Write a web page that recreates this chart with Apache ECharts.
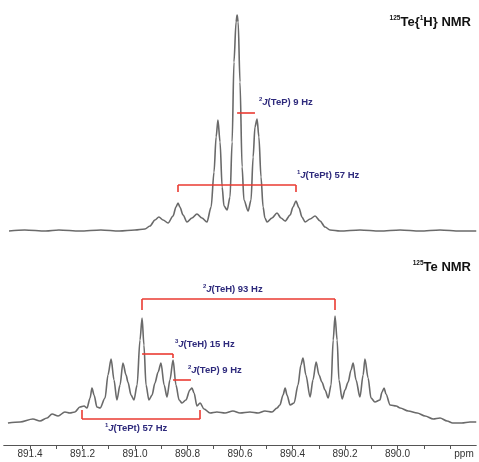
<!DOCTYPE html>
<html>
<head>
<meta charset="utf-8">
<script src="https://cdn.jsdelivr.net/npm/echarts@6/dist/echarts.min.js"></script>
<style>
  html, body { margin: 0; padding: 0; background: #fff; }
  #chart { width: 479px; height: 462px; }
</style>
</head>
<body>
<div id="chart"></div>
<script>
// 125Te{1H} spectrum (ppm, intensity)
const topPpm = [891.48, 891.42, 891.34, 891.29, 891.21, 891.13, 891.06, 891.00, 890.962, 890.943,
  890.924, 890.909, 890.893, 890.874, 890.855, 890.844, 890.836, 890.829, 890.817, 890.802,
  890.783, 890.764, 890.745, 890.726, 890.710, 890.699, 890.691, 890.684, 890.676, 890.668,
  890.661, 890.649, 890.638, 890.630, 890.623, 890.615, 890.611, 890.607, 890.600, 890.592,
  890.585, 890.569, 890.558, 890.550, 890.543, 890.535, 890.528, 890.520, 890.512, 890.505,
  890.497, 890.478, 890.459, 890.444, 890.428, 890.409, 890.398, 890.387, 890.375, 890.364,
  890.352, 890.333, 890.314, 890.295, 890.276, 890.257, 890.219, 890.143, 890.067, 889.990,
  889.914, 889.838, 889.762, 889.70];
const topInt = [1, 2, 1, 2, 1, 2, 1, 2, 3, 6,
  12, 15, 12, 9, 16, 25, 29, 25, 17, 10,
  14, 18, 14, 10, 25, 60, 95, 112, 90, 45,
  26, 22, 35, 90, 170, 210, 217, 210, 150, 65,
  32, 21, 32, 75, 105, 113, 95, 55, 25, 14,
  10, 14, 19, 14, 11, 17, 25, 31, 24, 15,
  10, 13, 16, 11, 5, 2, 1, 2, 1, 2,
  1, 2, 1, 1];

// 125Te spectrum (ppm, intensity)
const botPpm = [891.484, 891.438, 891.389, 891.362, 891.335, 891.316, 891.293, 891.267, 891.248, 891.229,
  891.210, 891.194, 891.183, 891.171, 891.164, 891.156, 891.145, 891.133, 891.114, 891.103,
  891.091, 891.080, 891.069, 891.057, 891.046, 891.034, 891.027, 891.015, 891.004, 890.992,
  890.981, 890.973, 890.966, 890.958, 890.947, 890.935, 890.924, 890.912, 890.901, 890.889,
  890.878, 890.867, 890.855, 890.844, 890.832, 890.821, 890.806, 890.791, 890.783, 890.775,
  890.764, 890.752, 890.737, 890.714, 890.688, 890.657, 890.627, 890.600, 890.562, 890.531,
  890.505, 890.478, 890.459, 890.448, 890.436, 890.428, 890.421, 890.409, 890.394, 890.379,
  890.368, 890.360, 890.349, 890.333, 890.322, 890.310, 890.299, 890.288, 890.276, 890.264,
  890.253, 890.245, 890.238, 890.230, 890.223, 890.211, 890.200, 890.188, 890.177, 890.169,
  890.158, 890.143, 890.131, 890.124, 890.112, 890.101, 890.086, 890.067, 890.059, 890.051,
  890.044, 890.028, 890.005, 889.990, 889.959, 889.925, 889.895, 889.864, 889.838, 889.811,
  889.790, 889.755, 889.724, 889.70];
const botInt = [22, 23, 26, 24, 27, 31, 29, 33, 32, 33,
  38, 39, 37, 47, 57, 50, 38, 37, 47, 70,
  86, 65, 45, 60, 82, 70, 63, 50, 45, 60,
  105, 127, 100, 60, 45, 50, 62, 73, 82, 60,
  48, 65, 85, 60, 45, 42, 45, 55, 57, 52,
  39, 42, 36, 32, 33, 32, 34, 32, 33, 32,
  34, 33, 37, 40, 50, 57, 50, 40, 42, 60,
  80, 87, 70, 48, 65, 83, 70, 63, 55, 47,
  60, 105, 129, 105, 65, 46, 55, 63, 75, 82,
  65, 48, 70, 86, 67, 47, 43, 45, 53, 57,
  51, 40, 39, 37, 34, 32, 29, 26, 27, 24,
  22, 22, 23, 23];

// coupling brackets: [ppmStart, ppmEnd, level, endLevel]
const topBrackets = [
  [890.611, 890.543, 119, null],
  [890.836, 890.387, 47, 40]
];
const botBrackets = [
  [890.973, 890.238, 146, 135],
  [890.973, 890.855, 91, null],
  [890.855, 890.787, 65, null],
  [891.202, 890.752, 26, 35]
];

const RED = '#ea3a31';
const INK = '#2e2a7c';
const FONT = 'Liberation Sans, Arial, sans-serif';

function bracketLines(list) {
  const out = [];
  list.forEach(([a, b, lv, end]) => {
    out.push([{ coord: [a, lv] }, { coord: [b, lv] }]);
    if (end != null) {
      out.push([{ coord: [a, lv] }, { coord: [a, end] }]);
      out.push([{ coord: [b, lv] }, { coord: [b, end] }]);
    }
  });
  return out;
}
// small end tick on the 15 Hz bracket
const extraBot = [[{ coord: [890.855, 91] }, { coord: [890.855, 87] }]];

const zip = (xs, ys) => xs.map((x, i) => [x, ys[i]]);

function jLabel(x, y, sup, rest) {
  return {
    type: 'text', x: x, y: y,
    style: {
      text: '{s|' + sup + '}{j|J}{n|' + rest + '}',
      textVerticalAlign: 'middle',
      fontFamily: FONT,
      rich: {
        s: { fontSize: 6, fontWeight: 'bold', fill: INK, padding: [0, 0, 6, 0] },
        j: { fontSize: 9.5, fontWeight: 'bold', fontStyle: 'italic', fill: INK },
        n: { fontSize: 9.5, fontWeight: 'bold', fill: INK }
      }
    }
  };
}
// plain (non-token) text takes the base style, so braces can stay outside tokens
function title(x, y, text) {
  return {
    type: 'text', x: x, y: y,
    style: {
      text: text,
      textAlign: 'right', textVerticalAlign: 'middle',
      fontFamily: FONT, fontSize: 13, fontWeight: 'bold', fill: '#111',
      rich: {
        s: { fontSize: 6.5, fontWeight: 'bold', fill: '#111', padding: [0, 0, 7, 0] }
      }
    }
  };
}

const chart = echarts.init(document.getElementById('chart'));
const xCommon = { type: 'value', min: 889.7, max: 891.5, inverse: true, interval: 0.1 };
const lineStyle = { color: '#6a6a6a', width: 1.6 };

chart.setOption({
  animation: false,
  backgroundColor: '#fff',
  grid: [
    { left: 3.75, right: 2.75, top: 12, height: 220 },
    { left: 3.75, right: 2.75, top: 295, bottom: 17 }
  ],
  xAxis: [
    Object.assign({ gridIndex: 0, show: false }, xCommon),
    Object.assign({ gridIndex: 1 }, xCommon, {
      axisLine: { lineStyle: { color: '#555', width: 1 } },
      axisTick: { length: 4, lineStyle: { color: '#555' } },
      splitLine: { show: false },
      axisLabel: {
        color: '#333', fontSize: 10, margin: 4, fontFamily: FONT,
        showMinLabel: false, showMaxLabel: false,
        rich: { p: { color: '#333', fontSize: 10, padding: [0, 0, 0, 28] } },
        formatter: (v) => {
          const k = Math.round(v * 10);
          if (k % 2 !== 0) return '';
          if (k === 8898) return '{p|ppm}';
          return (k / 10).toFixed(1);
        }
      }
    })
  ],
  yAxis: [
    { gridIndex: 0, type: 'value', min: 0, max: 220, show: false },
    { gridIndex: 1, type: 'value', min: 0, max: 150, show: false }
  ],
  series: [
    {
      type: 'line', xAxisIndex: 0, yAxisIndex: 0, data: zip(topPpm, topInt),
      symbol: 'none', smooth: 0.3, smoothMonotone: 'x', lineStyle: lineStyle,
      markLine: {
        silent: true, symbol: 'none', label: { show: false },
        lineStyle: { color: RED, width: 1.6, type: 'solid' },
        data: bracketLines(topBrackets)
      }
    },
    {
      type: 'line', xAxisIndex: 1, yAxisIndex: 1, data: zip(botPpm, botInt),
      symbol: 'none', smooth: 0.3, smoothMonotone: 'x', lineStyle: lineStyle,
      markLine: {
        silent: true, symbol: 'none', label: { show: false },
        lineStyle: { color: RED, width: 1.6, type: 'solid' },
        data: bracketLines(botBrackets).concat(extraBot)
      }
    }
  ],
  graphic: [
    title(471, 22, '{s|125}Te{{s|1}H} NMR'),
    title(471, 267, '{s|125}Te NMR'),
    jLabel(259, 102, '2', '(TeP) 9 Hz'),
    jLabel(297, 175, '1', '(TePt) 57 Hz'),
    jLabel(203, 289, '2', '(TeH) 93 Hz'),
    jLabel(175, 344, '3', '(TeH) 15 Hz'),
    jLabel(188, 370, '2', '(TeP) 9 Hz'),
    jLabel(105, 428, '1', '(TePt) 57 Hz')
  ]
});
</script>
</body>
</html>
